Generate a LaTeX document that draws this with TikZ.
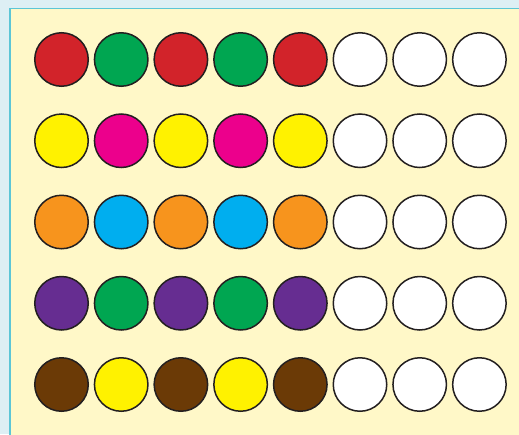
\documentclass[tikz,border=0pt]{standalone}
\usetikzlibrary{positioning}

\definecolor{bgcyan}{HTML}{DDEFF4}
\definecolor{framecyan}{HTML}{5CC6D6}
\definecolor{paper}{HTML}{FFF8C8}
\definecolor{ink}{HTML}{231F20}
\definecolor{cred}{HTML}{D2232A}
\definecolor{cgreen}{HTML}{00A651}
\definecolor{cyellow}{HTML}{FFF200}
\definecolor{cpink}{HTML}{EC008C}
\definecolor{corange}{HTML}{F7941D}
\definecolor{cblue}{HTML}{00AEEF}
\definecolor{cpurple}{HTML}{662D91}
\definecolor{cbrown}{HTML}{6B3A06}

\begin{document}
\begin{tikzpicture}[x=1pt, y=-1pt,
  bead/.style={draw=ink, line width=1.5pt, circle, minimum size=53.5pt, inner sep=0pt},
  board/.style={draw=framecyan, fill=paper, line width=1.2pt}]

%% --- Frame ---
\clip (0,0) rectangle (519,434);
\fill[bgcyan] (0,0) rectangle (519,434);
\draw[board] (10,8.3) rectangle (540,460);

%% --- Rows: first colour, second colour ---
\foreach \a/\b [count=\r from 0] in {cred/cgreen, cyellow/cpink, corange/cblue,
                                      cpurple/cgreen, cbrown/cyellow}{
  \node[bead, fill=\a] (b\r-0) at (61.5, 59.5+81.25*\r) {};
  \node[bead, fill=\b, right=4.7pt of b\r-0] (b\r-1) {};
  \node[bead, fill=\a, right=4.7pt of b\r-1] (b\r-2) {};
  \node[bead, fill=\b, right=4.7pt of b\r-2] (b\r-3) {};
  \node[bead, fill=\a, right=4.7pt of b\r-3] (b\r-4) {};
  \node[bead, fill=white, right=4.7pt of b\r-4] (b\r-5) {};
  \node[bead, fill=white, right=4.7pt of b\r-5] (b\r-6) {};
  \node[bead, fill=white, right=4.7pt of b\r-6] (b\r-7) {};
}
\end{tikzpicture}
\end{document}
